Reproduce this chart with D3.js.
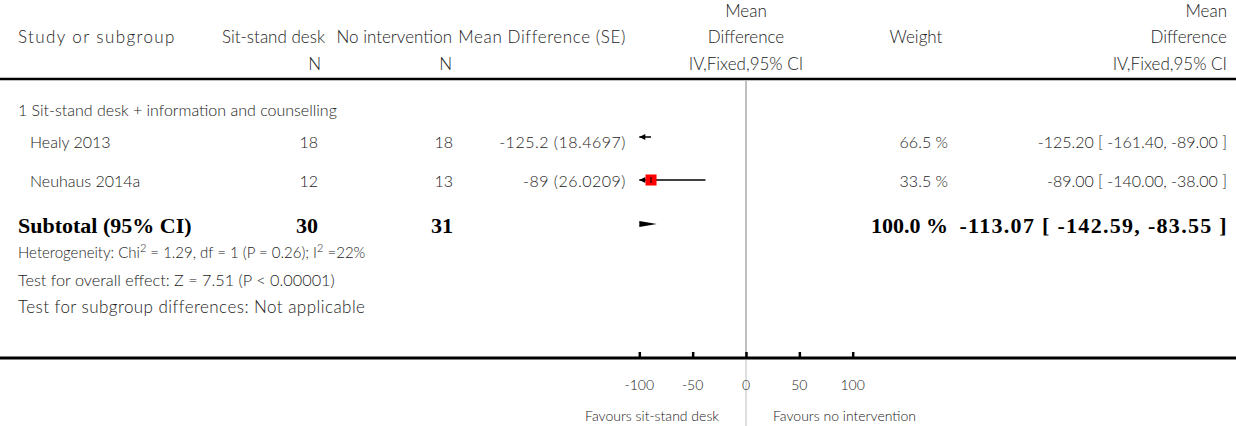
<!DOCTYPE html>
<html><head><meta charset="utf-8">
<script src="https://cdn.jsdelivr.net/npm/d3@7"></script>
<style>
html,body{margin:0;padding:0;background:#fff;}
svg text{font-family:Lato,"Open Sans",sans-serif;font-weight:300;fill:#222;}
.b{font-family:"Liberation Serif","DejaVu Serif",serif !important;font-weight:bold !important;fill:#000 !important;}
</style></head><body>
<svg id="c" width="1236" height="426"></svg>
<script>
// ---- data ----
const studies = ["Healy 2013", "Neuhaus 2014a"];
const nDesk = [18, 12];
const nNone = [18, 13];
const meanDiff = [-125.2, -89];
const seLabels = ["-125.2 (18.4697)", "-89 (26.0209)"];
const ciLow = [-161.4, -140.0];
const ciHigh = [-89.0, -38.0];
const weights = [66.5, 33.5];
const subtotalN = [30, 31];
const subtotalMD = [-113.07];
const subtotalCI = [-142.59, -83.55];
const subtotalWeight = [100.0];
const ticks = [-100, -50, 0, 50, 100];
const footnotes = ["Test for overall effect: Z = 7.51 (P < 0.00001)", "Test for subgroup differences: Not applicable"];

const svg = d3.select("#c");
const W = 1236;
const x = d3.scaleLinear().domain([-100, 100]).range([639.3, 852.7]);
const [dMin, dMax] = x.domain();
const cl = v => Math.max(dMin, Math.min(dMax, v));
const f2 = v => v.toFixed(2);

function txt(t, xx, yy, anchor, cls, size) {
  const e = svg.append("text").attr("x", xx).attr("y", yy).attr("text-anchor", anchor || "start")
    .style("font-size", (size || 16) + "px").text(t);
  if (cls) e.attr("class", cls);
  return e;
}

// header
const HS = 17;
txt("Study or subgroup", 18, 43, "start", null, HS).style("letter-spacing", "1.4px");
txt("Sit-stand desk", 325, 43, "end", null, HS);
txt("No intervention", 452, 43, "end", null, HS);
txt("Mean Difference (SE)", 626, 43, "end", null, HS).style("letter-spacing", "0.6px");
txt("Mean", 746, 17, "middle", null, HS);
txt("Difference", 746, 43, "middle", null, HS);
txt("Weight", 916, 43, "middle", null, HS);
txt("Mean", 1227, 17, "end", null, HS);
txt("Difference", 1227, 43, "end", null, HS);
txt("N", 321, 70, "end", null, HS);
txt("N", 452, 70, "end", null, HS);
txt("IV,Fixed,95% CI", 746, 70, "middle", null, HS);
txt("IV,Fixed,95% CI", 1227, 70, "end", null, HS);

svg.append("line").attr("x1", 0).attr("x2", W).attr("y1", 79).attr("y2", 79)
  .attr("stroke", "#000").attr("stroke-width", 2.5);

// zero line
svg.append("line").attr("x1", x(0)).attr("x2", x(0)).attr("y1", 81).attr("y2", 357)
  .attr("stroke", "#aaa").attr("stroke-width", 1.5);
svg.append("line").attr("x1", x(0)).attr("x2", x(0)).attr("y1", 360).attr("y2", 426)
  .attr("stroke", "#d4d4d4").attr("stroke-width", 1.5);

txt("1 Sit-stand desk + information and counselling", 18, 116);

const rowBase = [148, 187];
const ciY = [137, 180];
studies.forEach((s, i) => {
  const yb = rowBase[i];
  txt(s, 30, yb);
  txt(nDesk[i], 318, yb, "end");
  txt(nNone[i], 453, yb, "end");
  txt(seLabels[i], 626, yb, "end").style("letter-spacing", "0.5px");
  txt(weights[i].toFixed(1) + " %", 948, yb, "end");
  txt(f2(meanDiff[i]) + " [ " + f2(ciLow[i]) + ", " + f2(ciHigh[i]) + " ]", 1227, yb, "end");
  // CI line
  const yc = ciY[i];
  const lo = cl(ciLow[i]), hi = cl(ciHigh[i]);
  svg.append("line").attr("x1", x(lo)).attr("x2", x(hi)).attr("y1", yc).attr("y2", yc)
    .attr("stroke", "#000").attr("stroke-width", 1.5);
  if (ciLow[i] < dMin) {
    const ax = x(dMin);
    svg.append("path").attr("d", `M${ax},${yc} L${ax + 6},${yc - 3} L${ax + 6},${yc + 3} Z`).attr("fill", "#000");
  }
  if (ciHigh[i] > dMax) {
    const ax = x(dMax);
    svg.append("path").attr("d", `M${ax},${yc} L${ax - 6},${yc - 3} L${ax - 6},${yc + 3} Z`).attr("fill", "#000");
  }
  if (meanDiff[i] >= dMin && meanDiff[i] <= dMax) {
    const sz = 11;
    svg.append("rect").attr("x", x(meanDiff[i]) - sz / 2).attr("y", yc - sz / 2)
      .attr("width", sz).attr("height", sz).attr("fill", "#ff0000");
    svg.append("line").attr("x1", x(meanDiff[i])).attr("x2", x(meanDiff[i]))
      .attr("y1", yc - 3).attr("y2", yc + 3).attr("stroke", "#000").attr("stroke-width", 1);
  }
});

// subtotal
const sb = 233, BS = 22;
txt("Subtotal (95% CI)", 18, sb, "start", "b", BS);
txt(subtotalN[0], 318, sb, "end", "b", BS);
txt(subtotalN[1], 453, sb, "end", "b", BS);
txt(subtotalWeight[0].toFixed(1) + " %", 948, sb, "end", "b", BS);
txt(f2(subtotalMD[0]) + " [ " + f2(subtotalCI[0]) + ", " + f2(subtotalCI[1]) + " ]", 1228, sb, "end", "b", BS)
  .style("letter-spacing", "1.3px");

// diamond clipped to axis range
(function () {
  const yc = 224, h = 5.5;
  const m = subtotalMD[0], lo = subtotalCI[0], hi = subtotalCI[1];
  const hAt = v => v <= m ? h * (v - lo) / (m - lo) : h * (hi - v) / (hi - m);
  const pts = [];
  const L = cl(lo), R = cl(hi), M = cl(m);
  pts.push([x(L), yc - hAt(L)]);
  if (m > dMin && m < dMax) pts.push([x(M), yc - h]);
  pts.push([x(R), yc - hAt(R)]);
  pts.push([x(R), yc + hAt(R)]);
  if (m > dMin && m < dMax) pts.push([x(M), yc + h]);
  pts.push([x(L), yc + hAt(L)]);
  svg.append("path").attr("d", d3.line()(pts) + "Z").attr("fill", "#000");
})();

// heterogeneity
const het = txt("", 18, 258, "start", null, 15);
het.append("tspan").text("Heterogeneity: Chi");
het.append("tspan").attr("dy", -6).style("font-size", "11px").text("2");
het.append("tspan").attr("dy", 6).text(" = 1.29, df = 1 (P = 0.26); I");
het.append("tspan").attr("dy", -6).style("font-size", "11px").text("2");
het.append("tspan").attr("dy", 6).text(" =22%");
txt(footnotes[0], 18, 286, "start", null, 16.3);
txt(footnotes[1], 18, 313, "start", null, 17).style("letter-spacing", "0.45px");

// axis
svg.append("line").attr("x1", 0).attr("x2", W).attr("y1", 358).attr("y2", 358)
  .attr("stroke", "#000").attr("stroke-width", 3);
const ax = d3.axisTop(x).tickValues(ticks).tickSize(6).tickFormat("");
const g = svg.append("g").attr("transform", "translate(0,358)").call(ax);
g.select(".domain").remove();
g.selectAll(".tick line").attr("stroke", "#000").attr("stroke-width", 2.5);
ticks.forEach(t => txt(String(t), x(t), 390, "middle", null, 14));
txt("Favours sit-stand desk", 719, 421, "end", null, 14);
txt("Favours no intervention", 773, 421, "start", null, 14);
</script>
</body></html>
